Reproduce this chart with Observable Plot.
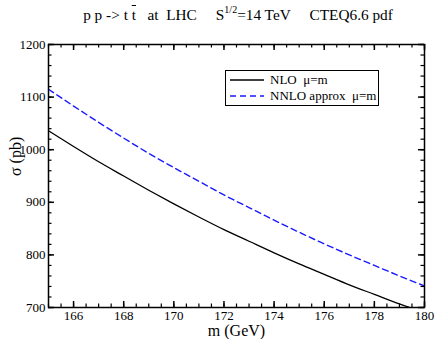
<!DOCTYPE html>
<html><head><meta charset="utf-8">
<script src="https://cdn.jsdelivr.net/npm/d3@7"></script>
<script src="https://cdn.jsdelivr.net/npm/@observablehq/plot@0.6"></script>
<style>
body{margin:0;background:#fff;font-family:"Liberation Serif","DejaVu Serif",serif;color:#000;}
#wrap{position:relative;width:436px;height:339px;overflow:hidden;}
#title{height:28px;font-size:15.3px;white-space:pre;text-align:center;padding-left:40px;box-sizing:border-box;line-height:30px;}
#title sup{font-size:10px;vertical-align:7px;line-height:0;}
#legend{position:absolute;left:225px;top:70px;width:152px;height:34px;border:1.5px solid #000;background:#fff;font-size:13px;}
#legend .row{position:absolute;left:4px;height:16px;display:flex;align-items:center;}
#legend svg{margin-right:6px;}
#chart svg, #chart svg text{font-family:"Liberation Serif","DejaVu Serif",serif !important;}
</style>
</head><body>
<div id="wrap">
<div id="title">p p -&gt; t <span style="text-decoration:overline">t</span>   at  LHC     S<sup>1/2</sup>=14 TeV     CTEQ6.6 pdf</div>
<div id="chart"></div>
<div id="legend"></div>
</div>
<script>
const mass = [165,166,167,168,169,170,171,172,173,174,175,176,177,178,179,180];
const nlo  = [1036,1006,977,950,923,897,872,848,826,804,783,763,743,725,707,690];
const nnlo = [1115,1083,1052,1022,993,966,940,914,890,866,843,821,800,780,760,741];
const seriesNames = ["NLO  μ=m", "NNLO approx  μ=m"];
const seriesColors = ["#000000", "#1a1aff"];
const seriesDash = [null, "6,4"];
const xMajor = [166,168,170,172,174,176,178,180];
const yMajor = [700,800,900,1000,1100,1200];
const xLabel = "m (GeV)";
const yLabel = "σ (pb)";

const W = 436, H = 311, mL = 48, mR = 12, mT = 16, mB = 32;
const iW = W - mL - mR, iH = H - mT - mB;
const xMinor = d3.range(165, 180.01, 0.5);
const yMinor = d3.range(700, 1200.1, 20);

const rowsA = mass.map((m, i) => ({m, s: nlo[i], series: seriesNames[0]}));
const rowsB = mass.map((m, i) => ({m, s: nnlo[i], series: seriesNames[1]}));

const majL = 6, minL = 3.5;
const ff = "'Liberation Serif', 'DejaVu Serif', serif";
const plot = Plot.plot({
  width: W, height: H,
  marginLeft: mL, marginRight: mR, marginTop: mT, marginBottom: mB,
  style: {fontFamily: ff, fontSize: "13px", color: "#000", background: "#fff"},
  x: {domain: [165, 180]},
  y: {domain: [700, 1200]},
  marks: [
    Plot.line(rowsA, {x: "m", y: "s", stroke: seriesColors[0], strokeWidth: 1.3, curve: "monotone-x", clip: true}),
    Plot.line(rowsB, {x: "m", y: "s", stroke: seriesColors[1], strokeWidth: 1.4, strokeDasharray: seriesDash[1], curve: "monotone-x", clip: true}),
    Plot.tickX(xMinor, {x: d => d, insetTop: iH - minL, stroke: "#000", strokeWidth: 1.2}),
    Plot.tickX(xMajor, {x: d => d, insetTop: iH - majL, stroke: "#000", strokeWidth: 1.5}),
    Plot.tickX(xMinor, {x: d => d, insetBottom: iH - minL, stroke: "#000", strokeWidth: 1.2}),
    Plot.tickX(xMajor, {x: d => d, insetBottom: iH - majL, stroke: "#000", strokeWidth: 1.5}),
    Plot.tickY(yMinor, {y: d => d, insetRight: iW - minL, stroke: "#000", strokeWidth: 1.2}),
    Plot.tickY(yMajor, {y: d => d, insetRight: iW - majL, stroke: "#000", strokeWidth: 1.5}),
    Plot.tickY(yMinor, {y: d => d, insetLeft: iW - minL, stroke: "#000", strokeWidth: 1.2}),
    Plot.tickY(yMajor, {y: d => d, insetLeft: iW - majL, stroke: "#000", strokeWidth: 1.5}),
    Plot.axisX({ticks: xMajor, tickSize: 0, tickPadding: 3, label: null, tickFormat: "d", fontSize: 13, fontFamily: ff}),
    Plot.axisY({ticks: yMajor, tickSize: 0, tickPadding: 3, label: null, tickFormat: "d", fontSize: 13, fontFamily: ff}),
    Plot.text([xLabel], {frameAnchor: "bottom", dy: 17, lineAnchor: "top", fontSize: 16, fontFamily: ff, text: d => d}),
    Plot.text([yLabel], {frameAnchor: "left", dx: -33, rotate: -90, fontSize: 16, fontFamily: ff, text: d => d}),
    Plot.frame({stroke: "#000", strokeWidth: 1.5})
  ]
});
document.getElementById("chart").appendChild(plot);

const leg = document.getElementById("legend");
seriesNames.forEach((name, i) => {
  const row = document.createElement("div");
  row.className = "row";
  row.style.top = (i === 0 ? 1 : 17) + "px";
  row.innerHTML = `<svg width="34" height="4"><line x1="0" x2="34" y1="2" y2="2" stroke="${seriesColors[i]}" stroke-width="1.4" ${seriesDash[i] ? `stroke-dasharray="${seriesDash[i]}"` : ""}/></svg><span style="white-space:pre">${name}</span>`;
  leg.appendChild(row);
});
</script>
</body></html>
